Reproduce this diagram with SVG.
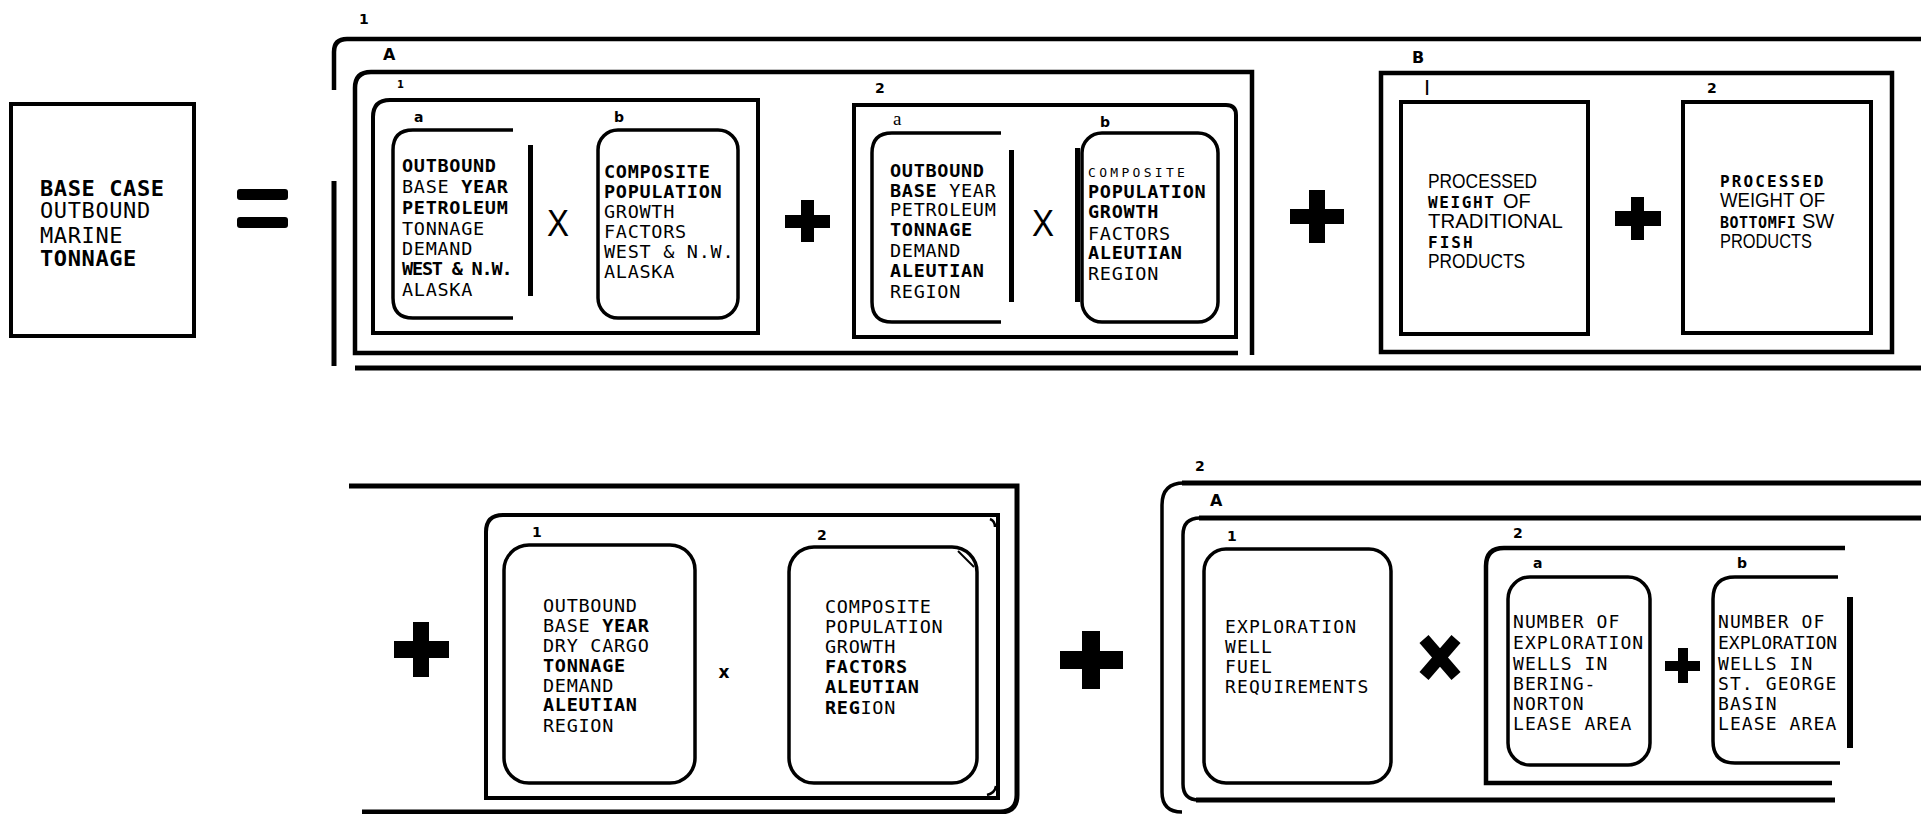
<svg xmlns="http://www.w3.org/2000/svg" width="1921" height="814" viewBox="0 0 1921 814">
<style>
.ln{fill:none;stroke:#000;stroke-width:5}
.bx{fill:none;stroke:#000;stroke-width:3.5}
.t{font-family:"DejaVu Sans Mono",monospace;font-size:18.5px;letter-spacing:0.7px;fill:#000}
.b{font-weight:bold}
.lb{font-family:"DejaVu Sans",sans-serif;font-weight:bold;font-size:14px;fill:#000}
.hs{font-family:"Liberation Sans",Arial,sans-serif;font-size:20px;fill:#000}
.xs{font-family:"Liberation Sans",Arial,sans-serif;font-size:37px;fill:#000}
.op{fill:#000}
</style>
<rect x="0" y="0" width="1921" height="814" fill="#fff"/>

<!-- ===== TOP ROW ===== -->
<g id="base-case">
  <rect class="bx" x="11" y="104" width="183" height="232" style="stroke-width:4"/>
  <text class="t" style="font-size:22px;letter-spacing:0.6px">
    <tspan x="40" y="196" class="b">BASE CASE</tspan>
    <tspan x="40" y="218">OUTBOUND</tspan>
    <tspan x="40" y="243">MARINE</tspan>
    <tspan x="40" y="266" class="b">TONNAGE</tspan>
  </text>
</g>

<g id="equals">
  <rect class="op" x="237" y="189" width="51" height="11" rx="3"/>
  <rect class="op" x="237" y="217" width="51" height="11" rx="3"/>
</g>

<g id="bracket-1">
  <path class="ln" style="stroke-width:4.5" d="M334,90 V52 Q334,39 347,39 H1921"/>
  <path class="ln" d="M334,181 V366"/>
  <path class="ln" d="M355,368 H1921"/>
  <text class="lb" x="359" y="24">1</text>
</g>

<g id="group-1A">
  <path class="ln" style="stroke-width:4.5" d="M1238,353 H355 V88 Q355,72 371,72 H1252 V355"/>
  <text class="lb" x="383" y="60" style="font-size:16px">A</text>
</g>

<g id="group-1A1">
  <path class="bx" style="stroke-width:4" d="M758,333 H373 V117 Q373,100 390,100 H758 Z"/>
  <text class="lb" x="397" y="88" style="font-size:10px">1</text>
</g>

<g id="node-1A1a">
  <path class="bx" d="M513,130 H413 Q393,130 393,150 V298 Q393,318 413,318 H513"/>
  <rect class="op" x="528" y="145" width="5" height="151"/>
  <text class="lb" x="414" y="122">a</text>
  <text class="t">
    <tspan x="402" y="172" class="b">OUTBOUND</tspan>
    <tspan x="402" y="193">BASE </tspan><tspan class="b">YEAR</tspan>
    <tspan x="402" y="214" class="b">PETROLEUM</tspan>
    <tspan x="402" y="235">TONNAGE</tspan>
    <tspan x="402" y="255">DEMAND</tspan>
    <tspan x="402" y="275" class="b" style="letter-spacing:-1.2px">WEST &amp; N.W.</tspan>
    <tspan x="402" y="296">ALASKA</tspan>
  </text>
</g>

<g id="node-1A1b">
  <rect class="bx" x="598" y="130" width="140" height="188" rx="20"/>
  <text class="lb" x="614" y="122">b</text>
  <text class="t">
    <tspan x="604" y="178" class="b">COMPOSITE</tspan>
    <tspan x="604" y="198" class="b">POPULATION</tspan>
    <tspan x="604" y="218">GROWTH</tspan>
    <tspan x="604" y="238">FACTORS</tspan>
    <tspan x="604" y="258">WEST &amp; N.W.</tspan>
    <tspan x="604" y="278">ALASKA</tspan>
  </text>
</g>

<g id="group-1A2">
  <path class="bx" style="stroke-width:4" d="M854,105 H1226 Q1236,105 1236,115 V337 H854 Z"/>
  <text class="lb" x="875" y="93">2</text>
</g>

<g id="node-1A2a">
  <path class="bx" d="M1001,133 H892 Q872,133 872,153 V302 Q872,322 892,322 H1001"/>
  <rect class="op" x="1009" y="150" width="5" height="152"/>
  <text x="893" y="125" style="font-family:'Liberation Serif',serif;font-size:19px">a</text>
  <text class="t">
    <tspan x="890" y="177" class="b">OUTBOUND</tspan>
    <tspan x="890" y="197" class="b">BASE</tspan><tspan> YEAR</tspan>
    <tspan x="890" y="216">PETROLEUM</tspan>
    <tspan x="890" y="236" class="b">TONNAGE</tspan>
    <tspan x="890" y="257">DEMAND</tspan>
    <tspan x="890" y="277" class="b">ALEUTIAN</tspan>
    <tspan x="890" y="298">REGION</tspan>
  </text>
</g>

<g id="node-1A2b">
  <rect class="bx" x="1082" y="133" width="136" height="189" rx="20"/>
  <rect class="op" x="1075" y="148" width="5" height="154"/>
  <text class="lb" x="1100" y="127">b</text>
  <text class="t">
    <tspan x="1088" y="177" style="font-size:13px;letter-spacing:3.3px">COMPOSITE</tspan>
    <tspan x="1088" y="198" class="b">POPULATION</tspan>
    <tspan x="1088" y="218" class="b">GROWTH</tspan>
    <tspan x="1088" y="240">FACTORS</tspan>
    <tspan x="1088" y="259" class="b">ALEUTIAN</tspan>
    <tspan x="1088" y="280">REGION</tspan>
  </text>
</g>

<g id="group-1B">
  <rect class="bx" x="1381" y="73" width="511" height="279" style="stroke-width:4.5"/>
  <text class="lb" x="1412" y="63" style="font-size:16px">B</text>
</g>

<g id="node-1B1">
  <rect class="bx" x="1401" y="102" width="187" height="232" style="stroke-width:4"/>
  <text class="hs" x="1424" y="95" style="font-size:22px">I</text>
  <text class="hs">
    <tspan x="1428" y="188" textLength="109" lengthAdjust="spacingAndGlyphs">PROCESSED</tspan>
    <tspan class="t b" x="1428" y="208" style="font-size:16px;letter-spacing:1.6px">WEIGHT</tspan><tspan x="1503" y="208">OF</tspan>
    <tspan x="1428" y="228" textLength="134" lengthAdjust="spacingAndGlyphs">TRADITIONAL</tspan>
    <tspan class="t b" x="1428" y="248" style="font-size:16px;letter-spacing:2px">FISH</tspan>
    <tspan x="1428" y="268" textLength="97" lengthAdjust="spacingAndGlyphs">PRODUCTS</tspan>
  </text>
</g>

<g id="node-1B2">
  <rect class="bx" x="1683" y="102" width="188" height="231" style="stroke-width:4"/>
  <text class="lb" x="1707" y="93">2</text>
  <text class="hs">
    <tspan class="t b" x="1720" y="187" style="font-size:16px;letter-spacing:2.1px">PROCESSED</tspan>
    <tspan x="1720" y="207" textLength="105" lengthAdjust="spacingAndGlyphs">WEIGHT OF</tspan>
    <tspan class="t b" x="1720" y="228" style="font-size:15px;letter-spacing:0.5px">BOTTOMFI</tspan><tspan x="1802" y="228">SW</tspan>
    <tspan x="1720" y="248" textLength="92" lengthAdjust="spacingAndGlyphs">PRODUCTS</tspan>
  </text>
</g>

<!-- ===== BOTTOM ROW ===== -->
<g id="bracket-1-cont">
  <path class="ln" d="M349,486 H1017 V795 Q1017,812 1000,812 H362"/>
</g>

<g id="group-1C">
  <path class="bx" style="stroke-width:4" d="M998,515 V798 H486 V532 Q486,515 503,515 Z"/>
  <path class="bx" style="stroke-width:2.5" d="M990,519 Q995,521 995,527 M987,795 Q995,793 996,786"/>
  <text class="lb" x="532" y="537">1</text>
  <text class="lb" x="817" y="540">2</text>
</g>

<g id="node-1C1">
  <rect class="bx" x="504" y="545" width="191" height="238" rx="25"/>
  <text class="t">
    <tspan x="543" y="612">OUTBOUND</tspan>
    <tspan x="543" y="632">BASE </tspan><tspan class="b">YEAR</tspan>
    <tspan x="543" y="652">DRY CARGO</tspan>
    <tspan x="543" y="672" class="b">TONNAGE</tspan>
    <tspan x="543" y="692">DEMAND</tspan>
    <tspan x="543" y="711" class="b">ALEUTIAN</tspan>
    <tspan x="543" y="732">REGION</tspan>
  </text>
</g>

<g id="node-1C2">
  <rect class="bx" x="789" y="547" width="188" height="236" rx="25"/>
  <path class="bx" style="stroke-width:2" d="M958,551 L974,567"/>
  <text class="t">
    <tspan x="825" y="613">COMPOSITE</tspan>
    <tspan x="825" y="633">POPULATION</tspan>
    <tspan x="825" y="653">GROWTH</tspan>
    <tspan x="825" y="673" class="b">FACTORS</tspan>
    <tspan x="825" y="693" class="b">ALEUTIAN</tspan>
    <tspan x="825" y="714"><tspan class="b">REG</tspan>ION</tspan>
  </text>
</g>

<g id="bracket-2">
  <path class="ln" d="M1921,483 H1182"/>
  <path class="bx" d="M1184,483 Q1162,483 1162,505 V792 Q1162,812 1182,812"/>
  <text class="lb" x="1195" y="471">2</text>
</g>

<g id="group-2A">
  <path class="ln" d="M1921,518 H1199"/>
  <path class="bx" d="M1200,518 Q1183,518 1183,535 V784 Q1183,800 1199,800"/>
  <path class="ln" d="M1196,800 H1835"/>
  <text class="lb" x="1210" y="506" style="font-size:16px">A</text>
</g>

<g id="node-2A1">
  <rect class="bx" x="1204" y="549" width="187" height="234" rx="22"/>
  <text class="lb" x="1227" y="541">1</text>
  <text class="t" style="font-size:18px;letter-spacing:1.2px">
    <tspan x="1225" y="633">EXPLORATION</tspan>
    <tspan x="1225" y="653">WELL</tspan>
    <tspan x="1225" y="673">FUEL</tspan>
    <tspan x="1225" y="693">REQUIREMENTS</tspan>
  </text>
</g>

<g id="group-2A2">
  <path class="bx" style="stroke-width:4.5" d="M1845,548 H1504 Q1486,548 1486,566 V783 H1832"/>
  <text class="lb" x="1513" y="538">2</text>
</g>

<g id="node-2A2a">
  <rect class="bx" x="1508" y="577" width="142" height="188" rx="22"/>
  <text class="lb" x="1533" y="568">a</text>
  <text class="t" style="font-size:18px;letter-spacing:1.1px">
    <tspan x="1513" y="628">NUMBER OF</tspan>
    <tspan x="1513" y="649">EXPLORATION</tspan>
    <tspan x="1513" y="670">WELLS IN</tspan>
    <tspan x="1513" y="690">BERING-</tspan>
    <tspan x="1513" y="710">NORTON</tspan>
    <tspan x="1513" y="730">LEASE AREA</tspan>
  </text>
</g>

<g id="node-2A2b">
  <path class="bx" d="M1838,577 H1735 Q1713,577 1713,599 V741 Q1713,763 1735,763 H1840"/>
  <rect class="op" x="1847" y="597" width="6" height="151"/>
  <text class="lb" x="1737" y="568">b</text>
  <text class="t" style="font-size:18px;letter-spacing:1.1px">
    <tspan x="1718" y="628">NUMBER OF</tspan>
    <tspan x="1718" y="649" style="letter-spacing:0px">EXPLORATION</tspan>
    <tspan x="1718" y="670">WELLS IN</tspan>
    <tspan x="1718" y="690">ST. GEORGE</tspan>
    <tspan x="1718" y="710">BASIN</tspan>
    <tspan x="1718" y="730">LEASE AREA</tspan>
  </text>
</g>

<!-- ===== OPERATORS ===== -->
<g id="operators">
  <text class="xs" x="558" y="236" text-anchor="middle" textLength="22" lengthAdjust="spacingAndGlyphs">X</text>
  <text class="xs" x="1043" y="236" text-anchor="middle" textLength="22" lengthAdjust="spacingAndGlyphs">X</text>
  <path class="op" d="M801,200 h13 v15 h16 v13 h-16 v14 h-13 v-14 h-16 v-13 h16 z"/>
  <path class="op" d="M1309,190 h16 v19 h19 v15 h-19 v19 h-16 v-19 h-19 v-15 h19 z"/>
  <path class="op" d="M1631,197 h13 v14 h17 v15 h-17 v14 h-13 v-14 h-16 v-15 h16 z"/>
  <path class="op" d="M413,622 h16 v19 h20 v17 h-20 v19 h-16 v-19 h-19 v-17 h19 z"/>
  <text x="724" y="678" text-anchor="middle" style="font-family:'DejaVu Sans',sans-serif;font-weight:bold;font-size:17px">x</text>
  <path class="op" d="M1082,631 h18 v20 h23 v18 h-23 v20 h-18 v-20 h-22 v-18 h22 z"/>
  <path class="ln" style="stroke-width:12" d="M1424,639 L1456,676 M1456,639 L1424,676"/>
  <path class="op" d="M1678,648 h10 v13 h12 v10 h-12 v12 h-10 v-12 h-13 v-10 h13 z"/>
</g>
</svg>
